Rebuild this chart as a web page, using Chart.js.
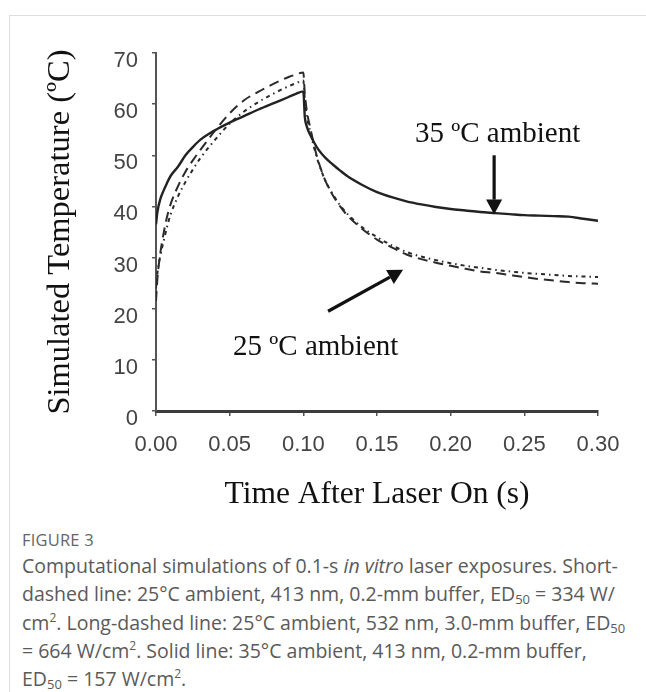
<!DOCTYPE html>
<html>
<head>
<meta charset="utf-8">
<script src="https://cdn.jsdelivr.net/npm/chart.js@4.4.1/dist/chart.umd.min.js"></script>
<style>
  html, body { margin: 0; padding: 0; background: #fff; }
  body { width: 646px; height: 692px; position: relative; overflow: hidden; }
  #frame { position: absolute; left: 9px; top: 15px; right: -2px; bottom: -2px;
           border-left: 1.5px solid #dedede; border-top: 1.5px solid #dedede; }
  #wrap { position: absolute; left: 0; top: 0; width: 646px; height: 520px; }
  .fig { position: absolute; top: 528px; left: 22px; font-size: 16.5px; color: #666; letter-spacing: 0.2px; white-space: nowrap; font-family: "Open Sans", "Lato", sans-serif; }
  .ln { position: absolute; left: 22px; font-size: 19.5px; white-space: nowrap; font-family: "Open Sans", "Lato", sans-serif; color: #5a5a5a; }
  sub { font-size: 13px; vertical-align: -3px; line-height: 0; }
  sup { font-size: 12px; vertical-align: 8px; line-height: 0; }
</style>
</head>
<body>
<div id="frame"></div>
<div id="wrap"><canvas id="c" width="646" height="520"></canvas></div>
<div class="fig">FIGURE 3</div>
<div class="ln" style="top:552px">Computational simulations of 0.1-s <i>in vitro</i> laser exposures. Short-</div>
<div class="ln" style="top:580px">dashed line: 25°C ambient, 413 nm, 0.2-mm buffer, ED<sub>50</sub> = 334 W/</div>
<div class="ln" style="top:609px">cm<sup>2</sup>. Long-dashed line: 25°C ambient, 532 nm, 3.0-mm buffer, ED<sub>50</sub></div>
<div class="ln" style="top:637px">= 664 W/cm<sup>2</sup>. Solid line: 35°C ambient, 413 nm, 0.2-mm buffer,</div>
<div class="ln" style="top:665px">ED<sub>50</sub> = 157 W/cm<sup>2</sup>.</div>
<script>
// ---- data ----
const times = [0, 0.001, 0.003, 0.005, 0.0075, 0.01, 0.015, 0.02, 0.025, 0.03, 0.04, 0.05, 0.06, 0.07, 0.08, 0.09, 0.095, 0.1,
  0.101, 0.1025, 0.105, 0.1075, 0.11, 0.115, 0.12, 0.125, 0.13, 0.14, 0.15, 0.16, 0.17, 0.18, 0.19, 0.2,
  0.21, 0.22, 0.23, 0.24, 0.25, 0.26, 0.27, 0.28, 0.29, 0.3];
const solid35 = [36.5, 39, 41.5, 43, 44.6, 46, 47.8, 50, 51.6, 53, 54.9, 56.4, 57.7, 59, 60.2, 61.4, 62.0, 62.5,
  57.5, 55.5, 53.8, 52.4, 51.2, 49.5, 48.2, 47.0, 45.9, 44.2, 42.8, 41.8, 41.0, 40.4, 39.9, 39.5,
  39.2, 38.9, 38.7, 38.5, 38.3, 38.2, 38.1, 38.0, 37.6, 37.2];
const longDash25 = [21.5, 26, 31, 34.5, 38, 40.5, 44, 46.8, 49, 51, 54.8, 58.2, 60.8, 62.5, 64, 65.3, 65.8, 66.2,
  62, 58.5, 55, 51.7, 49, 45, 42.2, 40, 38.2, 35.6, 33.5, 32, 30.6, 29.7, 29, 28.4,
  27.8, 27.3, 27.0, 26.6, 26.2, 25.8, 25.5, 25.2, 25.0, 24.9];
const shortDash25 = [24, 27, 30.5, 33, 36, 38.5, 42, 44.8, 47.2, 49.4, 53, 56.2, 58.6, 60.5, 62.1, 63.5, 64.1, 64.6,
  61, 57.5, 54.3, 51.3, 48.8, 45, 42.4, 40.2, 38.5, 35.9, 34, 32.4, 31.1, 30.2, 29.5, 28.9,
  28.4, 28.0, 27.6, 27.3, 27.0, 26.8, 26.6, 26.4, 26.3, 26.2];
const xTicks = [0, 0.05, 0.1, 0.15, 0.2, 0.25, 0.3];
const yTicks = [0, 10, 20, 30, 40, 50, 60, 70];
// annotation anchors in data units
const labels35 = { text: "35 ºC ambient", t: 0.1758, v: 54.0 };
const arrow35 = { t0: 0.2295, v0: 50.0, t1: 0.2295, v1: 38.4 };
const labels25 = { text: "25 ºC ambient", t: 0.0523, v: 12.4 };
const arrow25 = { t0: 0.1168, v0: 19.5, t1: 0.1677, v1: 27.6 };

const pts = arr => times.map((t, i) => ({ x: t, y: arr[i] }));

const annot = {
  id: 'annot',
  afterDatasetsDraw(chart) {
    const { ctx, scales: { x, y } } = chart;
    ctx.save();
    ctx.fillStyle = '#111';
    ctx.font = '29px "Liberation Serif", "Times New Roman", serif';
    ctx.textBaseline = 'middle';
    ctx.textAlign = 'left';
    [labels35, labels25].forEach(l => ctx.fillText(l.text, x.getPixelForValue(l.t), y.getPixelForValue(l.v)));
    const arrow = (a) => {
      const x0 = x.getPixelForValue(a.t0), y0 = y.getPixelForValue(a.v0);
      const x1 = x.getPixelForValue(a.t1), y1 = y.getPixelForValue(a.v1);
      const ang = Math.atan2(y1 - y0, x1 - x0);
      const hl = 15, hw = 8;
      const bx = x1 - hl * Math.cos(ang), by = y1 - hl * Math.sin(ang);
      ctx.strokeStyle = '#111'; ctx.lineWidth = 3.2;
      ctx.beginPath(); ctx.moveTo(x0, y0); ctx.lineTo(bx, by); ctx.stroke();
      ctx.beginPath();
      ctx.moveTo(x1, y1);
      ctx.lineTo(bx + hw * Math.sin(ang), by - hw * Math.cos(ang));
      ctx.lineTo(bx - hw * Math.sin(ang), by + hw * Math.cos(ang));
      ctx.closePath(); ctx.fill();
    };
    arrow(arrow35); arrow(arrow25);
    ctx.restore();
  }
};

const tickFont = { family: '"Liberation Sans", Arial, sans-serif', size: 22 };
const xTitleFont = { family: '"Liberation Serif", "Times New Roman", serif', size: 31.5 };
const yTitleFont = { family: '"Liberation Serif", "Times New Roman", serif', size: 32.5 };

new Chart(document.getElementById('c'), {
  type: 'line',
  data: {
    datasets: [
      { label: 'Solid 35', data: pts(solid35), borderColor: '#222', borderWidth: 2.4, pointRadius: 0, cubicInterpolationMode: 'monotone' },
      { label: 'Long dash 25', data: pts(longDash25), borderColor: '#2a2a2a', borderWidth: 2, borderDash: [10, 6], pointRadius: 0, cubicInterpolationMode: 'monotone' },
      { label: 'Short dash 25', data: pts(shortDash25), borderColor: '#2a2a2a', borderWidth: 2, borderDash: [4, 4, 1.5, 4], pointRadius: 0, cubicInterpolationMode: 'monotone' }
    ]
  },
  options: {
    responsive: false,
    animation: false,
    layout: { padding: { left: 10, top: 53, right: 48, bottom: 0 } },
    plugins: { legend: { display: false }, tooltip: { enabled: false } },
    scales: {
      x: {
        type: 'linear', min: 0, max: 0.3,
        afterBuildTicks: s => { s.ticks = xTicks.map(v => ({ value: v })); },
        afterFit: s => { s.height = 109; },
        ticks: { font: tickFont, color: '#444', padding: 16, maxRotation: 0, callback: v => v.toFixed(2) },
        grid: { drawOnChartArea: false, drawTicks: true, tickLength: 5, color: '#555', lineWidth: 1.5 },
        border: { display: true, color: '#3c3c3c', width: 3 },
        title: { display: true, text: 'Time After Laser On (s)', font: xTitleFont, color: '#111', padding: { top: 0, bottom: 6 } }
      },
      y: {
        type: 'linear', min: 0, max: 70,
        afterBuildTicks: s => { s.ticks = yTicks.map(v => ({ value: v })); },
        afterFit: s => { s.width = 146; },
        ticks: { font: tickFont, color: '#444', padding: 14, labelOffset: 8 },
        grid: { drawOnChartArea: false, drawTicks: true, tickLength: 4, color: '#555', lineWidth: 1.5 },
        border: { display: true, color: '#555', width: 2 },
        title: { display: true, text: 'Simulated Temperature (ºC)', font: yTitleFont, color: '#111', padding: { top: 31, bottom: 0 } }
      }
    }
  },
  plugins: [annot]
});
</script>
</body>
</html>
